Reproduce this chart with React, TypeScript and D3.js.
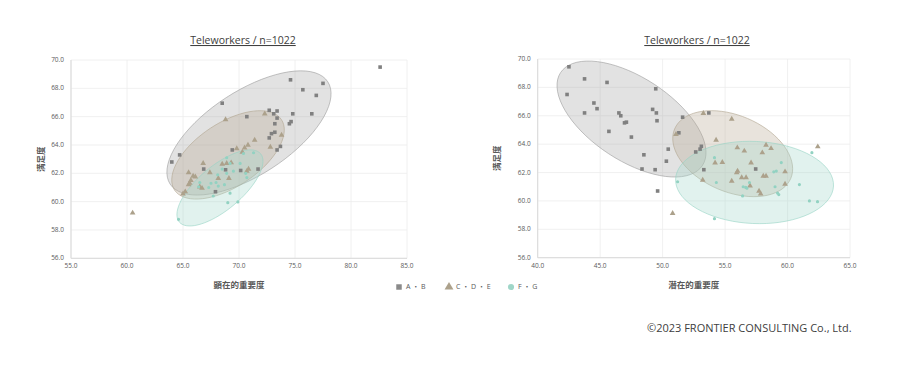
import React, { useEffect, useRef } from "react";
import * as d3 from "d3";

type Pt = [number, number];

// 顕在的重要度 x 満足度
const abLeft: Pt[] = [
	[82.6, 69.5], [77.5, 68.35], [74.6, 68.6], [75.7, 67.9], [76.9, 67.5],
	[68.5, 66.95], [76.5, 66.2], [74.8, 66.2], [74.65, 65.65], [74.5, 65.5],
	[72.7, 66.45], [73.4, 66.4], [73.1, 66.2], [73.4, 65.9], [73.2, 65.5],
	[70.7, 66.0], [73.2, 64.9], [72.9, 64.8], [72.7, 64.5], [73.7, 63.9],
	[73.4, 63.65], [69.4, 63.65], [64.7, 63.3], [64.0, 62.8], [66.85, 62.3],
	[68.8, 62.25], [70.15, 62.2], [71.7, 62.3], [67.9, 60.7],
];
const cdeLeft: Pt[] = [
	[68.8, 65.8], [72.3, 66.2], [73.8, 64.7], [71.4, 64.35], [72.8, 63.85],
	[69.8, 63.75], [70.8, 64.0], [70.5, 63.8], [70.3, 63.5], [66.8, 62.7],
	[68.5, 62.65], [68.9, 62.7], [69.3, 62.75], [65.5, 62.05], [67.4, 62.05],
	[65.9, 61.8], [66.1, 61.75], [65.7, 61.5], [65.6, 61.3], [65.5, 61.2],
	[66.5, 61.05], [66.7, 60.95], [68.15, 61.65], [69.1, 61.65], [70.7, 62.15],
	[70.85, 62.3], [65.2, 60.7], [65.0, 60.55], [60.5, 59.2],
];
const fgLeft: Pt[] = [
	[68.9, 63.1], [71.3, 63.45], [70.4, 63.4], [69.2, 62.7], [70.1, 62.7],
	[68.5, 62.3], [69.5, 62.15], [70.6, 62.0], [68.9, 62.0], [70.7, 61.7],
	[68.1, 61.9], [66.5, 61.35], [67.5, 61.3], [67.95, 61.35], [66.4, 61.05],
	[67.3, 61.0], [68.15, 61.1], [68.7, 61.2], [67.7, 60.4], [69.2, 60.6],
	[69.0, 59.93], [69.9, 59.98], [64.6, 58.75],
];

// 潜在的重要度 x 満足度
const abRight: Pt[] = [
	[42.5, 69.45], [43.75, 68.6], [45.55, 68.35], [42.35, 67.5], [49.45, 67.9],
	[44.5, 66.9], [44.75, 66.5], [43.75, 66.2], [46.5, 66.2], [46.65, 66.0],
	[49.2, 66.45], [49.5, 66.2], [49.55, 65.65], [46.95, 65.5], [47.1, 65.55],
	[45.7, 64.9], [47.5, 64.5], [51.6, 65.9], [51.3, 64.8], [50.45, 63.65],
	[48.5, 63.25], [50.3, 62.8], [48.35, 62.25], [49.4, 62.2], [53.7, 66.2],
	[53.1, 63.85], [53.0, 63.65], [52.65, 63.45], [53.3, 62.2], [57.45, 62.25],
	[49.6, 60.7],
];
const cdeRight: Pt[] = [
	[53.26, 66.17], [55.53, 65.77], [51.07, 64.69], [54.28, 64.29], [55.98, 63.75],
	[56.54, 63.52], [58.28, 63.94], [58.68, 63.7], [57.98, 63.4], [54.2, 62.69],
	[54.78, 62.72], [57.08, 62.69], [56.0, 62.1], [55.93, 61.99], [53.21, 61.47],
	[55.53, 61.4], [56.33, 61.64], [56.68, 61.64], [58.06, 61.75], [58.28, 61.75],
	[59.8, 62.06], [57.0, 61.07], [59.8, 61.19], [57.72, 60.7], [57.85, 60.49],
	[50.8, 59.13], [62.42, 63.82],
];
const fgRight: Pt[] = [
	[54.15, 63.05], [51.2, 61.35], [54.3, 61.3], [56.95, 61.3], [59.5, 62.7],
	[58.9, 62.05], [59.1, 62.1], [59.0, 61.0], [56.45, 61.0], [56.65, 60.95],
	[56.75, 60.9], [59.2, 60.55], [59.3, 60.45], [56.4, 60.35], [60.95, 61.15],
	[61.75, 60.0], [62.4, 59.95], [61.95, 63.4], [54.15, 58.75],
];

// group ellipses in data units: centre + two conjugate half-axes
type Ell = { cx: number; cy: number; ux: number; uy: number; vx: number; vy: number };
const ellLeft: Ell[] = [
	{ cx: 70.89, cy: 64.85, ux: 7.04, uy: 3.61, vx: 2.04, vy: -2.49 },
	{ cx: 69.02, cy: 63.3, ux: 4.77, uy: 2.49, vx: 1.58, vy: -1.88 },
	{ cx: 68.3, cy: 60.97, ux: 3.63, uy: 2.41, vx: 1.26, vy: -1.19 },
];
const ellRight: Ell[] = [
	{ cx: 47.51, cy: 65.77, ux: 5.68, uy: -3.27, vx: -1.82, vy: -2.45 },
	{ cx: 55.61, cy: 63.33, ux: 4.65, uy: -1.74, vx: -1.19, vy: -2.48 },
	{ cx: 57.36, cy: 61.3, ux: 6.32, uy: -0.25, vx: -0.15, vy: -2.89 },
];

const seriesNames = ["A・B", "C・D・E", "F・G"];
const xTicksLeft = [55, 60, 65, 70, 75, 80, 85];
const xTicksRight = [40, 45, 50, 55, 60, 65];
const yTicks = [56, 58, 60, 62, 64, 66, 68, 70];
const title = "Teleworkers / n=1022";
const yTitle = "満足度";
const xTitleLeft = "顕在的重要度";
const xTitleRight = "潜在的重要度";
const copyright = "©2023 FRONTIER CONSULTING Co., Ltd.";

const markColors = ["#808080", "#aca18b", "#92d2c2"];
const ellFill = ["#a6a6a6", "#b8ab96", "#a3d9cc"];
const ellStroke = ["#9a9a9a", "#b0a48f", "#96d3c5"];
const symbols = [d3.symbolSquare, d3.symbolTriangle, d3.symbolCircle];
const symSizes = [13, 14, 8];
const font = "'Open Sans', 'Noto Sans CJK JP', sans-serif";

const App: React.FC = () => {
	const svgRef = useRef<SVGSVGElement>(null);

	useEffect(() => {
		if (!svgRef.current) return;
		const svg = d3.select(svgRef.current);
		svg.selectAll("*").remove();

		const drawPanel = (
			box: { l: number; r: number; t: number; b: number },
			xTicks: number[],
			series: Pt[][],
			ells: Ell[],
			xTitle: string,
			titleX: number,
			yTitleX: number
		) => {
			const x = d3.scaleLinear().domain([xTicks[0], xTicks[xTicks.length - 1]]).range([box.l, box.r]);
			const y = d3.scaleLinear().domain([56, 70]).range([box.b, box.t]);
			const g = svg.append("g");

			// grid
			g.append("g")
				.selectAll("line")
				.data(yTicks)
				.join("line")
				.attr("x1", box.l)
				.attr("x2", box.r)
				.attr("y1", (d) => y(d))
				.attr("y2", (d) => y(d))
				.attr("stroke", "#ececec")
				.attr("stroke-width", 0.8);
			g.append("g")
				.selectAll("line")
				.data(xTicks)
				.join("line")
				.attr("x1", (d) => x(d))
				.attr("x2", (d) => x(d))
				.attr("y1", box.t)
				.attr("y2", box.b)
				.attr("stroke", "#ececec")
				.attr("stroke-width", 0.8);
			// axis lines
			g.append("line")
				.attr("x1", box.l).attr("x2", box.r)
				.attr("y1", box.b).attr("y2", box.b)
				.attr("stroke", "#d9d9d9");
			g.append("line")
				.attr("x1", box.l).attr("x2", box.l)
				.attr("y1", box.t).attr("y2", box.b)
				.attr("stroke", "#d9d9d9");

			// tick labels
			g.append("g")
				.selectAll("text")
				.data(yTicks)
				.join("text")
				.attr("x", box.l - 7)
				.attr("y", (d) => y(d))
				.attr("dy", "0.32em")
				.attr("text-anchor", "end")
				.attr("font-size", 6.5)
				.attr("fill", "#595959")
				.attr("font-family", font)
				.text((d) => d3.format(".1f")(d));
			g.append("g")
				.selectAll("text")
				.data(xTicks)
				.join("text")
				.attr("x", (d) => x(d))
				.attr("y", box.b + 10)
				.attr("text-anchor", "middle")
				.attr("font-size", 6.5)
				.attr("fill", "#595959")
				.attr("font-family", font)
				.text((d) => d3.format(".1f")(d));

			// ellipses
			const ts = d3.range(0, 72).map((i) => (i / 72) * Math.PI * 2);
			ells.forEach((e, i) => {
				const pts: [number, number][] = ts.map((t) => [
					x(e.cx + Math.cos(t) * e.ux + Math.sin(t) * e.vx),
					y(e.cy + Math.cos(t) * e.uy + Math.sin(t) * e.vy),
				]);
				g.append("path")
					.attr("d", d3.line().curve(d3.curveLinearClosed)(pts) || "")
					.attr("fill", ellFill[i])
					.attr("fill-opacity", 0.33)
					.attr("stroke", ellStroke[i])
					.attr("stroke-opacity", 0.75)
					.attr("stroke-width", 0.8);
			});

			// points
			series.forEach((pts, i) => {
				g.append("g")
					.selectAll("path")
					.data(pts)
					.join("path")
					.attr("transform", (d) => `translate(${x(d[0])},${y(d[1])})`)
					.attr("d", d3.symbol(symbols[i], symSizes[i])() || "")
					.attr("fill", markColors[i]);
			});

			// titles
			g.append("text")
				.attr("x", titleX)
				.attr("y", 44)
				.attr("text-anchor", "middle")
				.attr("font-size", 10.5)
				.attr("fill", "#404040")
				.attr("font-family", font)
				.attr("text-decoration", "underline")
				.text(title);
			g.append("text")
				.attr("x", (box.l + box.r) / 2)
				.attr("y", box.b + 30)
				.attr("text-anchor", "middle")
				.attr("font-size", 8.5)
				.attr("font-weight", "bold")
				.attr("fill", "#595959")
				.attr("font-family", font)
				.text(xTitle);
			g.append("text")
				.attr("transform", `translate(${yTitleX},${(box.t + box.b) / 2}) rotate(-90)`)
				.attr("text-anchor", "middle")
				.attr("dy", "0.35em")
				.attr("font-size", 8.5)
				.attr("font-weight", "bold")
				.attr("fill", "#595959")
				.attr("font-family", font)
				.text(yTitle);
		};

		drawPanel({ l: 71, r: 407, t: 60, b: 258.3 }, xTicksLeft, [abLeft, cdeLeft, fgLeft], ellLeft, xTitleLeft, 243, 41);
		drawPanel({ l: 537.7, r: 850, t: 59, b: 257.7 }, xTicksRight, [abRight, cdeRight, fgRight], ellRight, xTitleRight, 697, 497);

		// legend
		const legendX = [399, 449, 511];
		const legend = svg
			.append("g")
			.selectAll("g")
			.data(seriesNames)
			.join("g")
			.attr("transform", (d, i) => `translate(${legendX[i]},287)`);
		legend
			.append("path")
			.attr("d", (d, i) => d3.symbol(symbols[i], [30, 34, 30][i])() || "")
			.attr("fill", (d, i) => ["#8a8a8a", "#aca18b", "#9fd6c8"][i]);
		legend
			.append("text")
			.attr("x", 7)
			.attr("dy", "0.35em")
			.attr("font-size", 7)
			.attr("fill", "#595959")
			.attr("font-family", font)
			.text((d) => d.split("").join(" "));

		svg.append("text")
			.attr("x", 647)
			.attr("y", 332)
			.attr("font-size", 11)
			.attr("fill", "#404040")
			.attr("font-family", font)
			.text(copyright);
	}, []);

	return (
		<svg
			ref={svgRef}
			width={900}
			height={367}
			style={{ position: "absolute", left: 0, top: 0, background: "#fff" }}
		/>
	);
};

export default App;
